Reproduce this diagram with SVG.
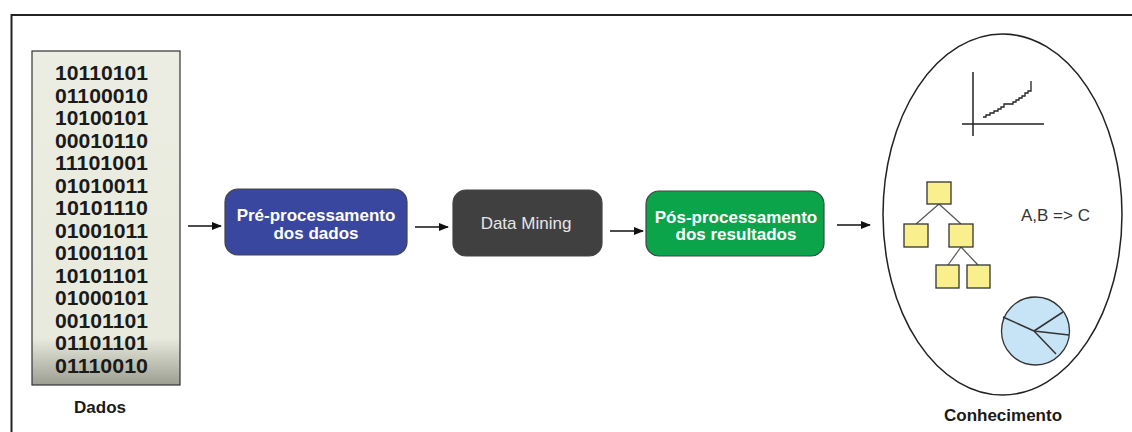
<svg xmlns="http://www.w3.org/2000/svg" width="1132" height="432" viewBox="0 0 1132 432">
  <defs>
    <linearGradient id="dataFill" x1="0" y1="0" x2="0" y2="1">
      <stop offset="0" stop-color="#ecede2"/>
      <stop offset="0.86" stop-color="#e8eadd"/>
      <stop offset="1" stop-color="#9c9e92"/>
    </linearGradient>
    <marker id="arrow" markerWidth="10" markerHeight="8" refX="9" refY="4" orient="auto" markerUnits="userSpaceOnUse">
      <path d="M0,0 L10,4 L0,8 Z" fill="#111"/>
    </marker>
    <style>
      .frame { fill: none; stroke: #222; stroke-width: 2; }
      .bits { font-family: "Liberation Sans", Arial, sans-serif; font-weight: bold; font-size: 20px; fill: #1a1a1a; text-anchor: middle; }
      .caption { font-family: "Liberation Sans", Arial, sans-serif; font-weight: bold; font-size: 17px; fill: #1a1a1a; text-anchor: middle; }
      .step { stroke: #444; stroke-width: 1.2; }
      .stepText { font-family: "Liberation Sans", Arial, sans-serif; font-size: 17px; text-anchor: middle; }
      .bold { font-weight: bold; fill: #ffffff; }
      .light { fill: #e6e6e6; }
      .conn { stroke: #111; stroke-width: 1.5; fill: none; marker-end: url(#arrow); }
      .ink { stroke: #222; fill: none; stroke-width: 1.5; }
      .leaf { fill: #f9ef8d; stroke: #333; stroke-width: 1.3; }
      .edge { stroke: #555; stroke-width: 1.2; }
      .rule { font-family: "Liberation Sans", Arial, sans-serif; font-size: 17px; fill: #333; }
    </style>
  </defs>

  <rect width="1132" height="432" fill="#ffffff"/>
  <!-- outer frame: top and left edges -->
  <path class="frame" d="M11.5,432 L11.5,15 L1132,15"/>

  <g id="dados">
    <rect x="32" y="51" width="148" height="334" fill="url(#dataFill)" stroke="#333" stroke-width="1.2"/>
    <g class="bits">
      <text x="101.5" y="80" textLength="93" lengthAdjust="spacingAndGlyphs">10110101</text>
      <text x="101.5" y="102.5" textLength="93" lengthAdjust="spacingAndGlyphs">01100010</text>
      <text x="101.5" y="125" textLength="93" lengthAdjust="spacingAndGlyphs">10100101</text>
      <text x="101.5" y="147.5" textLength="93" lengthAdjust="spacingAndGlyphs">00010110</text>
      <text x="101.5" y="170" textLength="93" lengthAdjust="spacingAndGlyphs">11101001</text>
      <text x="101.5" y="192.5" textLength="93" lengthAdjust="spacingAndGlyphs">01010011</text>
      <text x="101.5" y="215" textLength="93" lengthAdjust="spacingAndGlyphs">10101110</text>
      <text x="101.5" y="237.5" textLength="93" lengthAdjust="spacingAndGlyphs">01001011</text>
      <text x="101.5" y="260" textLength="93" lengthAdjust="spacingAndGlyphs">01001101</text>
      <text x="101.5" y="282.5" textLength="93" lengthAdjust="spacingAndGlyphs">10101101</text>
      <text x="101.5" y="305" textLength="93" lengthAdjust="spacingAndGlyphs">01000101</text>
      <text x="101.5" y="327.5" textLength="93" lengthAdjust="spacingAndGlyphs">00101101</text>
      <text x="101.5" y="350" textLength="93" lengthAdjust="spacingAndGlyphs">01101101</text>
      <text x="101.5" y="372.5" textLength="93" lengthAdjust="spacingAndGlyphs">01110010</text>
    </g>
    <text class="caption" x="100" y="413">Dados</text>
  </g>

  <g id="pre-processamento">
    <rect class="step" x="225" y="189" width="182" height="66" rx="13" fill="#3a479f"/>
    <text class="stepText bold" x="316" y="221">Pré-processamento</text>
    <text class="stepText bold" x="316" y="239">dos dados</text>
  </g>

  <g id="data-mining">
    <rect class="step" x="453" y="190" width="149" height="66" rx="13" fill="#404040"/>
    <text class="stepText light" x="526" y="229">Data Mining</text>
  </g>

  <g id="pos-processamento">
    <rect class="step" x="646" y="191" width="178" height="65" rx="13" fill="#0ba44b"/>
    <text class="stepText bold" x="736" y="223">Pós-processamento</text>
    <text class="stepText bold" x="736" y="240">dos resultados</text>
  </g>

  <g id="conhecimento">
    <ellipse cx="1002.5" cy="214.5" rx="119.5" ry="180.5" fill="#ffffff" stroke="#222" stroke-width="1.5"/>
    <!-- trend chart -->
    <path class="ink" d="M973,72 L973,136 M962,124 L1044,124"/>
    <path fill="none" stroke="#222" stroke-width="1.3" d="M983,117 L986,117 L986,115 L990,115 L990,113 L994,113 L994,111 L998,111 L998,109 L1001,109 L1001,107 L1004,107 L1004,104 L1013,104 L1013,102 L1016,102 L1016,100 L1019,100 L1019,98 L1022,98 L1022,96 L1025,96 L1025,93 L1028,93 L1028,91 L1031,91 L1031,81"/>
    <!-- decision tree -->
    <g>
      <line class="edge" x1="939" y1="204" x2="916" y2="224"/>
      <line class="edge" x1="939" y1="204" x2="961" y2="224"/>
      <line class="edge" x1="961" y1="247" x2="948" y2="265"/>
      <line class="edge" x1="961" y1="247" x2="978" y2="265"/>
      <rect class="leaf" x="927" y="182" width="24" height="22"/>
      <rect class="leaf" x="904" y="224" width="24" height="23"/>
      <rect class="leaf" x="949" y="224" width="24" height="23"/>
      <rect class="leaf" x="936" y="265" width="23" height="23"/>
      <rect class="leaf" x="967" y="265" width="23" height="23"/>
    </g>
    <text class="rule" x="1021" y="221">A,B =&gt; C</text>
    <!-- pie chart -->
    <circle cx="1035.5" cy="331" r="34" fill="#c6e4f6" stroke="#333" stroke-width="1.3"/>
    <path fill="none" stroke="#333" stroke-width="1.5" d="M1034,331 L1003,317 M1034,331 L1063,312 M1034,331 L1069,335 M1034,331 L1056,354"/>
    <text class="caption" x="1003" y="421">Conhecimento</text>
  </g>

  <g id="connectors">
    <line class="conn" x1="188" y1="226" x2="221" y2="226"/>
    <line class="conn" x1="415" y1="227" x2="448" y2="227"/>
    <line class="conn" x1="610" y1="231" x2="643" y2="231"/>
    <line class="conn" x1="837" y1="225" x2="870" y2="225"/>
  </g>
</svg>
